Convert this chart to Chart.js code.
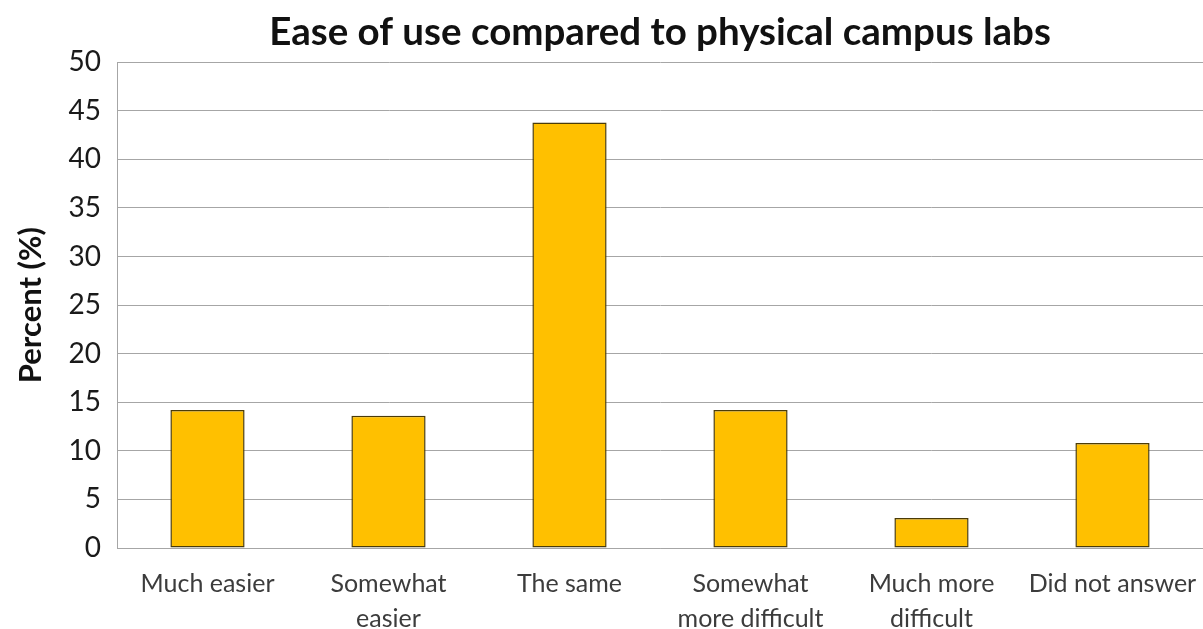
<!DOCTYPE html>
<html>
<head>
<meta charset="utf-8">
<script src="https://cdn.jsdelivr.net/npm/chart.js@4.4.3/dist/chart.umd.min.js"></script>
<style>
  html, body { margin: 0; padding: 0; background: #fff; }
  #wrap { width: 1203px; height: 629px; }
</style>
</head>
<body>
<div id="wrap"><canvas id="easeChart"></canvas></div>
<script>
const categories = [
  ["Much easier"],
  ["Somewhat", "easier"],
  ["The same"],
  ["Somewhat", "more difficult"],
  ["Much more", "difficult"],
  ["Did not answer"],
];
const percents = [14.2, 13.6, 43.8, 14.2, 3.1, 10.8];
const yTicks = [0, 5, 10, 15, 20, 25, 30, 35, 40, 45, 50];

const FONT = "Lato, 'Open Sans', sans-serif";

new Chart(document.getElementById("easeChart"), {
  type: "bar",
  data: {
    labels: categories,
    datasets: [{
      label: "Percent",
      data: percents,
      backgroundColor: "#FFC000",
      borderColor: "#4a3b08",
      borderWidth: 1.5,
      borderSkipped: false,
      categoryPercentage: 1,
      barPercentage: 0.41,
    }],
  },
  options: {
    responsive: true,
    maintainAspectRatio: false,
    animation: false,
    layout: { padding: 0 },
    plugins: {
      legend: { display: false },
      tooltip: { enabled: false },
      title: {
        display: true,
        fullSize: false,
        text: "Ease of use compared to physical campus labs",
        color: "#111",
        font: { family: FONT, size: 38.5, weight: "bold" },
        padding: { top: 9, bottom: 7 },
      },
    },
    scales: {
      x: {
        grid: { display: false, drawTicks: false },
        border: { color: "#a6a6a6" },
        ticks: {
          color: "#3c3c3c",
          font: { family: FONT, size: 25, lineHeight: 1.38 },
          padding: 19,
          maxRotation: 0,
          autoSkip: false,
        },
        // labels may run past the plot edge; keep the plot flush right
        afterFit: (s) => {
          s.height = 81;
          s.paddingLeft = 0;
          s.paddingRight = 0;
        },
      },
      y: {
        min: 0,
        max: 50,
        afterBuildTicks: (s) => { s.ticks = yTicks.map((v) => ({ value: v })); },
        grid: { color: "#a6a6a6", drawTicks: false },
        border: { color: "#a6a6a6" },
        ticks: {
          color: "#1a1a1a",
          font: { family: FONT, size: 28 },
          padding: 16,
        },
        title: {
          display: true,
          text: "Percent (%)",
          color: "#111",
          font: { family: FONT, size: 31, weight: "bold" },
          padding: { top: 12, bottom: 0 },
        },
        afterFit: (s) => { s.width = 117; },
      },
    },
  },
});
</script>
</body>
</html>
